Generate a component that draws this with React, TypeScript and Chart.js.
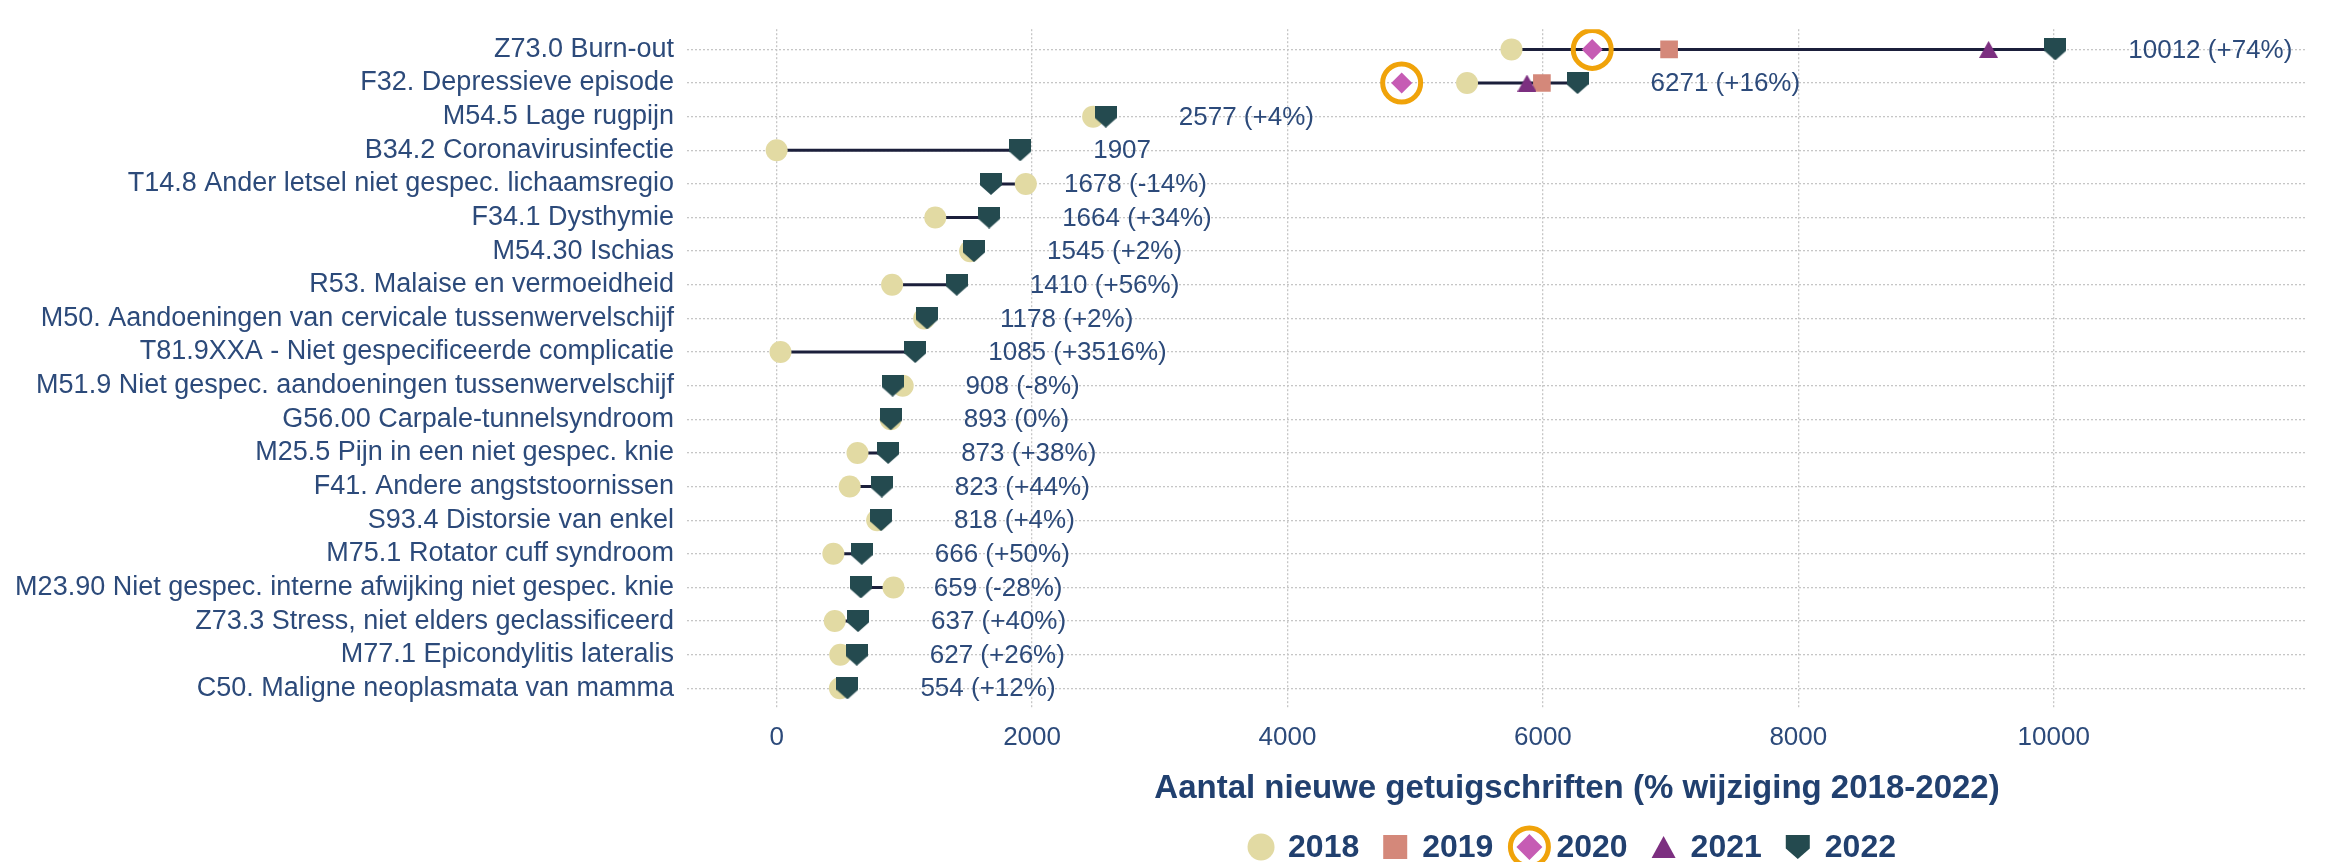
import React, { useEffect, useRef } from 'react';
import { Chart, registerables } from 'chart.js';

Chart.register(...registerables);

const categories = [
  'Z73.0 Burn-out',
  'F32. Depressieve episode',
  'M54.5 Lage rugpijn',
  'B34.2 Coronavirusinfectie',
  'T14.8 Ander letsel niet gespec. lichaamsregio',
  'F34.1 Dysthymie',
  'M54.30 Ischias',
  'R53. Malaise en vermoeidheid',
  'M50. Aandoeningen van cervicale tussenwervelschijf',
  'T81.9XXA - Niet gespecificeerde complicatie',
  'M51.9 Niet gespec. aandoeningen tussenwervelschijf',
  'G56.00 Carpale-tunnelsyndroom',
  'M25.5 Pijn in een niet gespec. knie',
  'F41. Andere angststoornissen',
  'S93.4 Distorsie van enkel',
  'M75.1 Rotator cuff syndroom',
  'M23.90 Niet gespec. interne afwijking niet gespec. knie',
  'Z73.3 Stress, niet elders geclassificeerd',
  'M77.1 Epicondylitis lateralis',
  'C50. Maligne neoplasmata van mamma',
];

const values2018 = [5754, 5406, 2478, 0, 1951, 1242, 1515, 904, 1155, 30, 987, 893, 633, 572, 787, 444, 915, 455, 498, 495];
const values2019 = [6988, 5992];
const values2020 = [6386, 4894];
const values2021 = [9490, 5875];
const values2022 = [10012, 6271, 2577, 1907, 1678, 1664, 1545, 1410, 1178, 1085, 908, 893, 873, 823, 818, 666, 659, 637, 627, 554];
const changeLabels = ['+74%', '+16%', '+4%', '', '-14%', '+34%', '+2%', '+56%', '+2%', '+3516%', '-8%', '0%', '+38%', '+44%', '+4%', '+50%', '-28%', '+40%', '+26%', '+12%'];
const xTickValues = [0, 2000, 4000, 6000, 8000, 10000];
const seriesNames = ['2018', '2019', '2020', '2021', '2022'];
const axisTitle = 'Aantal nieuwe getuigschriften (% wijziging 2018-2022)';

const C2018 = '#e2daa3';
const C2019 = '#d4887a';
const C2020 = '#c65cb4';
const C2021 = '#7c2f80';
const C2022 = '#244a4f';
const CRING = '#f0a30a';
const CLINE = '#1b1f3b';
const TEXT = '#2c4a7a';
const BOLD_TEXT = '#21406f';
const GRID = '#c6c6c6';
const FONT = '"Liberation Sans", Arial, sans-serif';

function makeCanvas(w: number, h: number, draw: (ctx: CanvasRenderingContext2D) => void) {
  const c = document.createElement('canvas');
  c.width = w;
  c.height = h;
  const ctx = c.getContext('2d')!;
  draw(ctx);
  return c;
}

function shieldPath(ctx: CanvasRenderingContext2D, x: number, y: number, w: number, h: number) {
  ctx.beginPath();
  ctx.moveTo(x, y);
  ctx.lineTo(x + w, y);
  ctx.lineTo(x + w, y + h * 0.56);
  ctx.lineTo(x + w / 2, y + h);
  ctx.lineTo(x, y + h * 0.56);
  ctx.closePath();
}

function trianglePath(ctx: CanvasRenderingContext2D, x: number, y: number, w: number, h: number) {
  ctx.beginPath();
  ctx.moveTo(x + w / 2, y);
  ctx.lineTo(x + w, y + h);
  ctx.lineTo(x, y + h);
  ctx.closePath();
}

const overlayPlugin = {
  id: 'overlay',
  afterDatasetsDraw(chart: any) {
    const { ctx, scales } = chart;
    const xs = scales.x;
    const ys = scales.y;
    ctx.save();
    ctx.font = `26px ${FONT}`;
    ctx.fillStyle = TEXT;
    ctx.textAlign = 'left';
    ctx.textBaseline = 'middle';
    values2022.forEach((v, i) => {
      const label = changeLabels[i] ? `${v} (${changeLabels[i]})` : `${v}`;
      ctx.fillText(label, xs.getPixelForValue(v) + 73, ys.getPixelForValue(i) + 1);
    });
    ctx.restore();
  },
  afterDraw(chart: any) {
    const { ctx } = chart;
    ctx.save();
    // axis title
    ctx.font = `bold 33px ${FONT}`;
    ctx.fillStyle = BOLD_TEXT;
    ctx.textAlign = 'center';
    ctx.textBaseline = 'middle';
    ctx.fillText(axisTitle, 1577, 789);

    // legend
    const ly = 847;
    ctx.font = `bold 32px ${FONT}`;
    ctx.textAlign = 'left';
    const markerHalf = 13;
    const textGap = 27;
    const itemGap = 23;
    const widths = seriesNames.map((s) => ctx.measureText(s).width);
    let total = 0;
    widths.forEach((w, i) => {
      total += markerHalf + textGap + w + (i < widths.length - 1 ? itemGap : 0);
    });
    let cursor = 1572 - total / 2;
    seriesNames.forEach((name, i) => {
      const cx = cursor + markerHalf;
      if (i === 0) {
        ctx.fillStyle = C2018;
        ctx.beginPath();
        ctx.arc(cx, ly, 13.5, 0, Math.PI * 2);
        ctx.fill();
      } else if (i === 1) {
        ctx.fillStyle = C2019;
        ctx.fillRect(cx - 12, ly - 12, 24, 24);
      } else if (i === 2) {
        ctx.fillStyle = C2020;
        ctx.beginPath();
        ctx.moveTo(cx, ly - 13);
        ctx.lineTo(cx + 13, ly);
        ctx.lineTo(cx, ly + 13);
        ctx.lineTo(cx - 13, ly);
        ctx.closePath();
        ctx.fill();
        ctx.strokeStyle = CRING;
        ctx.lineWidth = 5;
        ctx.beginPath();
        ctx.arc(cx, ly, 19, 0, Math.PI * 2);
        ctx.stroke();
      } else if (i === 3) {
        ctx.fillStyle = C2021;
        trianglePath(ctx, cx - 12, ly - 11, 24, 22);
        ctx.fill();
      } else {
        ctx.fillStyle = C2022;
        shieldPath(ctx, cx - 12, ly - 12, 24, 24);
        ctx.fill();
      }
      ctx.fillStyle = BOLD_TEXT;
      ctx.fillText(name, cx + textGap, ly + 1);
      cursor = cx + textGap + widths[i] + itemGap;
    });
    ctx.restore();
  },
};

export default function App() {
  const canvasRef = useRef<HTMLCanvasElement | null>(null);

  useEffect(() => {
    const canvas = canvasRef.current;
    if (!canvas) return;

    const shieldImg = makeCanvas(22, 22, (ctx) => {
      ctx.fillStyle = C2022;
      shieldPath(ctx, 0, 0, 22, 22);
      ctx.fill();
    });
    const triImg = makeCanvas(19, 17, (ctx) => {
      ctx.fillStyle = C2021;
      trianglePath(ctx, 0, 0, 19, 17);
      ctx.fill();
    });

    const segData: any[] = [];
    values2018.forEach((v, i) => {
      segData.push({ x: Math.min(v, values2022[i]), y: i });
      segData.push({ x: Math.max(v, values2022[i]), y: i });
      segData.push({ x: null, y: null });
    });

    const toPts = (arr: number[]) => arr.map((v, i) => ({ x: v, y: i }));

    const chart = new Chart(canvas, {
      type: 'scatter',
      data: {
        datasets: [
          {
            label: 'range',
            data: segData,
            showLine: true,
            spanGaps: false,
            borderColor: CLINE,
            borderWidth: 3,
            pointRadius: 0,
            order: 10,
          },
          {
            label: '2018',
            data: toPts(values2018),
            pointStyle: 'circle',
            pointRadius: 11,
            backgroundColor: C2018,
            borderWidth: 0,
            order: 7,
          },
          {
            label: '2019',
            data: toPts(values2019),
            pointStyle: 'rect',
            pointRadius: 12.5,
            backgroundColor: C2019,
            borderWidth: 0,
            order: 6,
          },
          {
            label: '2020',
            data: toPts(values2020),
            pointStyle: 'rectRot',
            pointRadius: 10.5,
            backgroundColor: C2020,
            borderWidth: 0,
            order: 5,
          },
          {
            label: '2020 ring',
            data: toPts(values2020),
            pointStyle: 'circle',
            pointRadius: 19,
            backgroundColor: 'rgba(0,0,0,0)',
            borderColor: CRING,
            borderWidth: 5,
            order: 4,
          },
          {
            label: '2021',
            data: toPts(values2021),
            pointStyle: triImg as any,
            pointRadius: 10,
            backgroundColor: C2021,
            order: 3,
          },
          {
            label: '2022',
            data: toPts(values2022),
            pointStyle: shieldImg as any,
            pointRadius: 11,
            backgroundColor: C2022,
            order: 1,
          },
        ],
      },
      options: {
        animation: false,
        responsive: false,
        devicePixelRatio: 1,
        events: [],
        layout: { padding: { top: 7, right: 0, bottom: 0, left: 0 } },
        plugins: {
          legend: { display: false },
          tooltip: { enabled: false },
          title: { display: false },
        },
        scales: {
          x: {
            type: 'linear',
            min: -702,
            max: 11983,
            afterBuildTicks: (axis: any) => {
              axis.ticks = xTickValues.map((v) => ({ value: v }));
            },
            afterFit: (axis: any) => {
              axis.height = 862 - 708.5;
            },
            grid: {
              color: GRID,
              lineWidth: 1.3,
              drawTicks: false,
            },
            border: { display: false, dash: [2, 2] },
            ticks: {
              color: TEXT,
              font: { family: FONT, size: 26 },
              padding: 14,
              maxRotation: 0,
              callback: (v: any) => String(v),
            },
          },
          y: {
            type: 'linear',
            reverse: true,
            min: -0.6,
            max: categories.length - 1 + 0.6,
            afterBuildTicks: (axis: any) => {
              axis.ticks = categories.map((_, i) => ({ value: i }));
            },
            afterFit: (axis: any) => {
              axis.width = 687;
            },
            grid: {
              color: GRID,
              lineWidth: 1.3,
              drawTicks: false,
            },
            border: { display: false, dash: [2, 2] },
            ticks: {
              color: TEXT,
              font: { family: FONT, size: 27 },
              padding: 13,
              autoSkip: false,
              callback: (v: any) => categories[v as number] ?? '',
            },
          },
        },
      },
      plugins: [overlayPlugin],
    });

    return () => chart.destroy();
  }, []);

  return (
    <div style={{ position: 'fixed', left: 0, top: 0, width: 2331, height: 862, background: '#ffffff' }}>
      <canvas ref={canvasRef} width={2331} height={862} style={{ display: 'block' }} />
    </div>
  );
}
